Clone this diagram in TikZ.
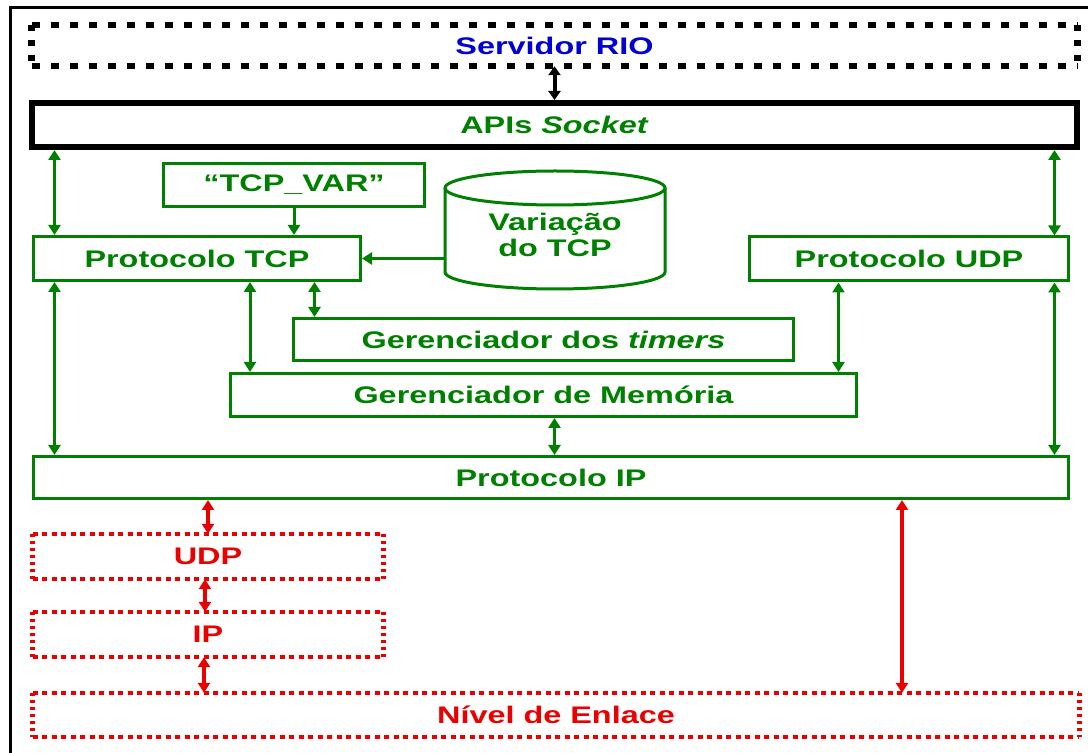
\documentclass[tikz,border=0pt]{standalone}
\usepackage{fontspec}
\setmainfont{Liberation Sans}
\usepackage{graphicx}
\usetikzlibrary{arrows.meta}
\definecolor{boxgreen}{RGB}{0,128,0}
\definecolor{layerred}{RGB}{235,0,0}
\definecolor{rioblue}{RGB}{0,0,210}
% labels are set wide, as in the original slide
\newcommand{\wide}[1]{\scalebox{1.35}[1]{#1}}

\begin{document}
\begin{tikzpicture}[x=1pt,y=1pt,
  lbl/.style={font=\fontsize{24}{26}\selectfont\bfseries, inner sep=0pt},
  gbox/.style={lbl, draw=boxgreen, line width=3pt, text=boxgreen},
  rbox/.style={lbl, text=layerred},
  garrow/.style={boxgreen, line width=3pt, >={Triangle[width=12pt,length=10pt]}},
  rarrow/.style={layerred, line width=3.5pt, >={Triangle[width=12pt,length=10pt]}},
  karrow/.style={black, line width=4pt, >={Triangle[width=12pt,length=9pt]}},
  khdots/.style={black, line width=6.5pt, dash pattern=on 8pt off 11pt},
  kvdots/.style={black, line width=7pt, dash pattern=on 6pt off 9pt},
  rhdots/.style={layerred, line width=4pt, dash pattern=on 5pt off 4.5pt},
  rvdots/.style={layerred, line width=5pt, dash pattern=on 3.5pt off 3.5pt},
]
\useasboundingbox (0,0) rectangle (1088,753);
\clip (0,0) rectangle (1088,753);

% outer frame
\draw[black, line width=3pt] (10,-20) rectangle (1110,745);

% application layers
\node[lbl, text=rioblue, minimum width=1045pt, minimum height=41pt] (srv) at (554.5,707.5) {\wide{Servidor RIO}};
\node[lbl, draw=black, line width=6pt, text=boxgreen, minimum width=1045pt, minimum height=44pt] (apis) at (554.5,628) {\wide{APIs \textit{Socket}}};

% protocol modules
\node[gbox, minimum width=261pt, minimum height=43pt] (tcpvar) at (294,568) {\wide{“TCP\_VAR”}};
\node[gbox, minimum width=327pt, minimum height=44pt] (tcp) at (197,494.5) {\wide{Protocolo TCP}};
\node[gbox, minimum width=319pt, minimum height=44pt] (udp) at (909,494) {\wide{Protocolo UDP}};
\node[gbox, minimum width=500pt, minimum height=42pt] (timers) at (543.5,413.5) {\wide{Gerenciador dos \textit{timers}}};
\node[gbox, minimum width=626pt, minimum height=43pt] (mem) at (543.5,358) {\wide{Gerenciador de Memória}};
\node[gbox, minimum width=1035pt, minimum height=42pt] (ip) at (551,275.5) {\wide{Protocolo IP}};

% TCP variant database
\draw[boxgreen, line width=3pt] (445,565) -- (445,481)
  arc[start angle=180, end angle=360, x radius=110pt, y radius=17pt] -- (665,565);
\draw[boxgreen, line width=3pt] (555,565) ellipse [x radius=110pt, y radius=17pt];
\node[lbl, text=boxgreen, align=center, minimum width=220pt] (var) at (555,518) {\wide{Variação}\\\wide{do TCP}};

% lower (tunnel) layers
\node[rbox, minimum width=350pt, minimum height=45pt] (rudp) at (208,196.5) {\wide{UDP}};
\node[rbox, minimum width=350pt, minimum height=45pt] (rip) at (208,118.5) {\wide{IP}};
\node[rbox, minimum width=1046pt, minimum height=44pt] (enl) at (556,38) {\wide{Nível de Enlace}};

% dotted outlines
\draw[khdots] (srv.north west) -- (srv.north east) (srv.south west) -- (srv.south east);
\draw[kvdots] (srv.north west) -- (srv.south west) (srv.north east) -- (srv.south east);
\foreach \n in {rudp,rip,enl} {
  \draw[rhdots] (\n.north west) -- (\n.north east) (\n.south west) -- (\n.south east);
  \draw[rvdots] (\n.north west) -- (\n.south west) (\n.north east) -- (\n.south east);
}

% connectors
\draw[karrow, <->] (srv.south) -- (apis.north);
\draw[garrow, <->] ([xshift=22.5pt]tcp.north west) -- ([xshift=22.5pt]tcp.north west |- apis.south);
\draw[garrow, <->] ([xshift=-15.5pt]udp.north east) -- ([xshift=-15.5pt]udp.north east |- apis.south);
\draw[garrow, ->] (tcpvar.south) -- (tcpvar.south |- tcp.north);
\draw[garrow, ->] (var.west |- tcp.east) -- (tcp.east);
\draw[garrow, <->] ([xshift=22.5pt]tcp.south west) -- ([xshift=22.5pt]tcp.south west |- ip.north);
\draw[garrow, <->] ([xshift=-15.5pt]udp.south east) -- ([xshift=-15.5pt]udp.south east |- ip.north);
\draw[garrow, <->] ([xshift=21pt]mem.north west) -- ([xshift=21pt]mem.north west |- tcp.south);
\draw[garrow, <->] ([xshift=22.5pt]timers.north west) -- ([xshift=22.5pt]timers.north west |- tcp.south);
\draw[garrow, <->] ([xshift=-19.5pt]mem.north east) -- ([xshift=-19.5pt]mem.north east |- udp.south);
\draw[garrow, <->] ([xshift=11pt]mem.south) -- ([xshift=11pt]mem.south |- ip.north);
\draw[rarrow, <->] (rudp.north) -- (rudp.north |- ip.south);
\draw[rarrow, <->] ([xshift=-3pt]rudp.south) -- ([xshift=-3pt]rudp.south |- rip.north);
\draw[rarrow, <->] ([xshift=-4pt]rip.south) -- ([xshift=-4pt]rip.south |- enl.north);
\draw[rarrow, <->] ([xshift=346pt]enl.north) -- ([xshift=346pt]enl.north |- ip.south);
\end{tikzpicture}
\end{document}
